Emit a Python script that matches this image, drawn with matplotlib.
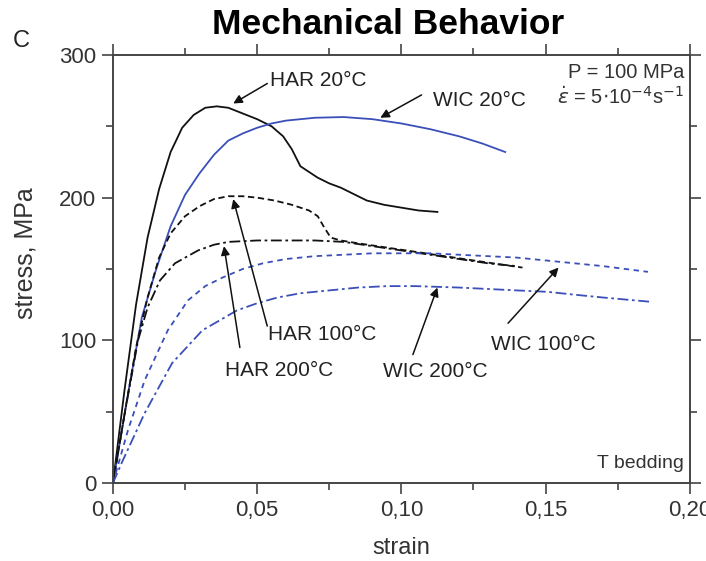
import numpy as np
import matplotlib.pyplot as plt
from matplotlib.ticker import MultipleLocator, FuncFormatter

plt.rcParams['font.family'] = ['Liberation Sans', 'DejaVu Sans']

# stress-strain curves (strain, MPa)
har20_x = [0, 0.004, 0.008, 0.012, 0.016, 0.020, 0.024, 0.028, 0.032, 0.036, 0.040, 0.045,
           0.050, 0.055, 0.059, 0.062, 0.065, 0.068, 0.071, 0.075, 0.079, 0.084, 0.088,
           0.094, 0.100, 0.106, 0.1125]
har20_y = [0, 65, 125, 172, 206, 232, 249, 258, 263, 264, 263, 259,
           255, 250, 243, 234, 222, 218, 214, 210, 207, 202, 198,
           195, 193, 191, 190]

wic20_x = [0, 0.005, 0.010, 0.015, 0.020, 0.025, 0.030, 0.035, 0.040, 0.045, 0.050, 0.055,
           0.060, 0.070, 0.080, 0.090, 0.100, 0.110, 0.120, 0.128, 0.136]
wic20_y = [0, 60, 116, 150, 180, 202, 217, 230, 240, 245, 249, 252,
           254, 256, 256.5, 255, 252, 248, 243, 238, 232]

har100_x = [0, 0.004, 0.008, 0.012, 0.016, 0.020, 0.025, 0.030, 0.035, 0.040, 0.045, 0.050,
            0.056, 0.062, 0.068, 0.071, 0.073, 0.0755, 0.079, 0.085, 0.095, 0.105, 0.115,
            0.125, 0.135, 0.142]
har100_y = [0, 48, 95, 130, 158, 175, 187, 194, 199, 201, 201, 200,
            198, 195, 191, 187, 180, 172, 170, 168, 165, 162, 159,
            156, 153, 151]

har200_x = [0, 0.004, 0.0087, 0.012, 0.0163, 0.0215, 0.0295, 0.035, 0.040, 0.050, 0.060,
            0.070, 0.080, 0.090, 0.100, 0.110, 0.120, 0.130, 0.140]
har200_y = [0, 48, 100, 123, 142, 154, 163, 167, 169, 170, 170,
            170, 169, 166, 163, 160, 157, 154, 152]

wic100_x = [0, 0.0052, 0.011, 0.019, 0.026, 0.032, 0.038, 0.045, 0.052, 0.060, 0.070, 0.080,
            0.090, 0.100, 0.110, 0.120, 0.130, 0.140, 0.150, 0.160, 0.170, 0.1855]
wic100_y = [0, 37, 72, 107, 128, 138, 144, 150, 154, 157, 159, 160,
            161, 161, 161, 160, 159, 158, 156, 154, 152, 148]

wic200_x = [0, 0.003, 0.011, 0.0205, 0.031, 0.043, 0.050, 0.057, 0.065, 0.075, 0.085, 0.095,
            0.105, 0.1125, 0.120, 0.130, 0.140, 0.1507, 0.160, 0.170, 0.1865]
wic200_y = [0, 14, 49, 84, 107, 121, 126, 130, 133, 135, 137, 138,
            138, 137.5, 137, 136, 135, 134, 132, 130, 127]

# label text, text position, arrow tail, arrow tip
labels = ["HAR 20°C", "WIC 20°C", "HAR 100°C", "HAR 200°C", "WIC 200°C", "WIC 100°C"]
text_pos = [(0.0545, 282), (0.111, 268), (0.0538, 104), (0.039, 79), (0.0938, 78), (0.131, 97)]
arrow_tail = [(0.0535, 280), (0.107, 272), (0.0535, 110), (0.044, 95), (0.104, 90), (0.137, 112)]
arrow_tip = [(0.0417, 266), (0.0927, 256), (0.0417, 199), (0.0385, 166), (0.1125, 137), (0.1545, 151)]

black = '#111111'
blue = '#3b4fb8'
grey = '#333333'

fig = plt.figure(figsize=(7.06, 5.61), dpi=100)
ax = fig.add_axes([0.160, 0.139, 0.817, 0.763])

ax.plot(har20_x, har20_y, color=black, lw=1.3)
ax.plot(wic20_x, wic20_y, color=blue, lw=1.3)
ax.plot(har100_x, har100_y, color=black, lw=1.3, dashes=(3.5, 2))
ax.plot(har200_x, har200_y, color=black, lw=1.3, dashes=(6, 2, 1.5, 2))
ax.plot(wic100_x, wic100_y, color=blue, lw=1.3, dashes=(3, 2.5))
ax.plot(wic200_x, wic200_y, color=blue, lw=1.3, dashes=(6, 2, 1.5, 2))

for lab, tp, tail, tip in zip(labels, text_pos, arrow_tail, arrow_tip):
    ax.annotate('', xy=tip, xytext=tail,
                arrowprops=dict(arrowstyle='-|>', color=black, lw=1.1, mutation_scale=13,
                                shrinkA=0, shrinkB=0))
    ax.text(tp[0], tp[1], lab, fontsize=15, color='#222222', ha='left', va='center')

ax.text(0.99, 0.958, "P = 100 MPa", transform=ax.transAxes, fontsize=14.5, color=grey,
        ha='right', va='center')
ax.text(0.99, 0.902, r"$\dot{\varepsilon}$ = 5$\cdot$10$^{-4}$s$^{-1}$", transform=ax.transAxes,
        fontsize=14.5, color=grey, ha='right', va='center')
ax.text(0.99, 0.045, "T bedding", transform=ax.transAxes, fontsize=14, color=grey,
        ha='right', va='center')

ax.set_xlim(0, 0.20)
ax.set_ylim(0, 300)
ax.xaxis.set_major_locator(MultipleLocator(0.05))
ax.xaxis.set_minor_locator(MultipleLocator(0.025))
ax.yaxis.set_major_locator(MultipleLocator(100))
ax.yaxis.set_minor_locator(MultipleLocator(50))
ax.xaxis.set_major_formatter(FuncFormatter(lambda v, p: f"{v:.2f}".replace('.', ',')))

ax.tick_params(which='both', direction='out', top=True, right=True, color='#444444',
               labelsize=16, labelcolor=grey, width=1.2, pad=4)
ax.tick_params(which='major', length=8)
ax.tick_params(which='minor', length=5)
for s in ax.spines.values():
    s.set_color('#444444')
    s.set_linewidth(1.4)

ax.set_xlabel("strain", fontsize=17, color=grey)
ax.xaxis.set_label_coords(0.5, -0.127)
ax.set_ylabel("stress, MPa", fontsize=18, color=grey)
ax.yaxis.set_label_coords(-0.131, 0.537)

fig.text(0.55, 0.957, "Mechanical Behavior", fontsize=25.5, fontweight='bold',
         ha='center', va='center')
fig.text(0.018, 0.927, "C", fontsize=17, color='#222222', ha='left', va='center')

fig.savefig("out.png", dpi=100)
